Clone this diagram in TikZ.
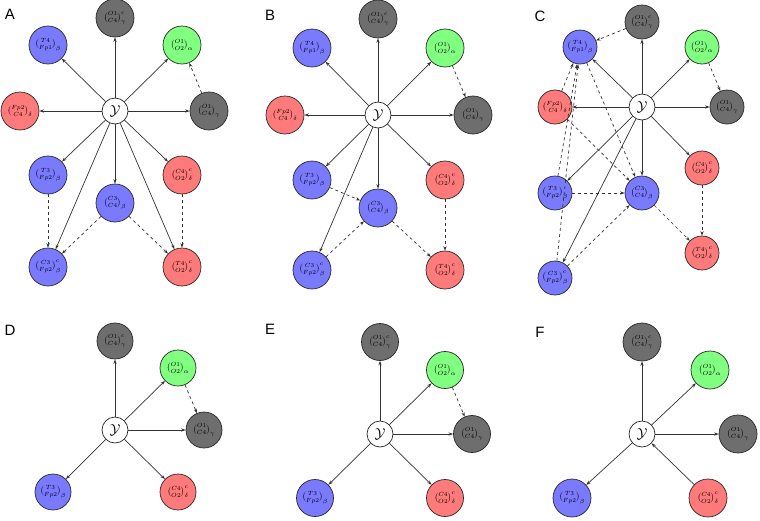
\documentclass[tikz,border=0pt]{standalone}
\usepackage{amsmath}
\usepackage{fontspec}
\newfontfamily\labfont{Liberation Sans}
\usetikzlibrary{arrows.meta}
\definecolor{nblue}{RGB}{122,122,255}
\definecolor{ngreen}{RGB}{128,255,128}
\definecolor{nred}{RGB}{255,122,122}
\definecolor{ngray}{RGB}{110,110,110}
\def\nsize{38pt}
\tikzset{
  cnode/.style={circle, draw=black!85, line width=0.7pt, inner sep=0pt, minimum size=\nsize, font=\footnotesize},
  blu/.style={cnode, fill=nblue},
  grn/.style={cnode, fill=ngreen},
  rd/.style={cnode, fill=nred},
  gry/.style={cnode, fill=ngray},
  ynode/.style={circle, draw=black!85, line width=0.7pt, fill=white, minimum size=26pt, inner sep=0pt, font=\Large},
  sol/.style={-{Stealth[length=4.5pt,width=3.2pt]}, line width=0.7pt, draw=black!80},
  dsh/.style={sol, dashed},
  panlab/.style={font=\labfont\fontsize{15}{15}\selectfont, inner sep=0pt}
}
\newcommand{\lTFa}{$\binom{T4}{Fp1}_\beta$}
\newcommand{\lOCc}{$\binom{O1}{C4}^c_\gamma$}
\newcommand{\lOO}{$\binom{O1}{O2}_\alpha$}
\newcommand{\lFC}{$\binom{Fp2}{C4}_\delta$}
\newcommand{\lOC}{$\binom{O1}{C4}_\gamma$}
\newcommand{\lTFb}{$\binom{T3}{Fp2}_\beta$}
\newcommand{\lCOc}{$\binom{C4}{O2}^c_\delta$}
\newcommand{\lCC}{$\binom{C3}{C4}_\beta$}
\newcommand{\lCFc}{$\binom{C3}{Fp2}^c_\beta$}
\newcommand{\lTOc}{$\binom{T4}{O2}^c_\delta$}
\newcommand{\Ysym}{$\mathcal{Y}$}
\begin{document}
\begin{tikzpicture}[x=1pt,y=-1pt]
\useasboundingbox (0,0) rectangle (760,520);
% ---------------- Panel A ----------------
\node[panlab] (labA) at (10,14) {A};
\node[ynode] (aY) at (115,111) {\Ysym};
\node[gry] (aOCc) at (115,18) {\lOCc};
\node[blu] (aTFa) at (48,45) {\lTFa};
\node[grn] (aOO) at (182,45) {\lOO};
\node[rd] (aFC) at (20,111) {\lFC};
\node[gry] (aOC) at (209,111) {\lOC};
\node[blu] (aTFb) at (48,175) {\lTFb};
\node[rd] (aCOc) at (182,175) {\lCOc};
\node[blu] (aCC) at (115,203) {\lCC};
\node[blu] (aCFc) at (48,267) {\lCFc};
\node[rd] (aTOc) at (182,267) {\lTOc};
\foreach \t in {aOCc,aTFa,aOO,aFC,aOC,aTFb,aCOc,aCC,aCFc,aTOc} \draw[sol] (aY) -- (\t);
\draw[dsh] (aOC) -- (aOO);
\draw[dsh] (aTFb) -- (aCFc);
\draw[dsh] (aCC) -- (aCFc);
\draw[dsh] (aCC) -- (aTOc);
\draw[dsh] (aCOc) -- (aTOc);
% ---------------- Panel B ----------------
\node[panlab] (labB) at (270,15) {B};
\node[ynode] (bY) at (378,115) {\Ysym};
\node[gry] (bOCc) at (378,19) {\lOCc};
\node[blu] (bTFa) at (312,48) {\lTFa};
\node[grn] (bOO) at (445,48) {\lOO};
\node[rd] (bFC) at (285,115) {\lFC};
\node[gry] (bOC) at (473,115) {\lOC};
\node[blu] (bTFb) at (312,180) {\lTFb};
\node[rd] (bCOc) at (445,180) {\lCOc};
\node[blu] (bCC) at (378,208) {\lCC};
\node[blu] (bCFc) at (312,270) {\lCFc};
\node[rd] (bTOc) at (445,270) {\lTOc};
\foreach \t in {bOCc,bTFa,bOO,bFC,bOC,bTFb,bCOc,bCC,bCFc} \draw[sol] (bY) -- (\t);
\draw[dsh] (bOO) -- (bOC);
\draw[dsh] (bTFb) -- (bCC);
\draw[dsh] (bCFc) -- (bCC);
\draw[dsh] (bCC) -- (bTOc);
\draw[dsh] (bCOc) -- (bTOc);
% ---------------- Panel C ----------------
\def\nsize{34pt}
\node[panlab] (labC) at (540,16) {C};
\node[ynode] (cY) at (642,107) {\Ysym};
\node[gry] (cOCc) at (642,22) {\lOCc};
\node[blu] (cTFa) at (580,47) {\lTFa};
\node[grn] (cOO) at (702,47) {\lOO};
\node[rd] (cFC) at (555,107) {\lFC};
\node[gry] (cOC) at (727,107) {\lOC};
\node[rd] (cCOc) at (702,168) {\lCOc};
\node[blu] (cTFb) at (555,193) {\lTFb};
\node[blu] (cCC) at (642,193) {\lCC};
\node[rd] (cTOc) at (702,253) {\lTOc};
\node[blu] (cCFc) at (555,278) {\lCFc};
\foreach \t in {cOCc,cTFa,cOO,cFC,cOC,cTFb,cCOc,cCC,cCFc} \draw[sol] (cY) -- (\t);
\draw[dsh] (cOCc) -- (cTFa);
\draw[dsh] (cOO) -- (cOC);
\draw[dsh] (cCOc) -- (cTOc);
\draw[dsh] (cCC) -- (cTOc);
\draw[dsh] (cTFb) -- (cCC);
\draw[dsh] (cCFc) -- (cCC);
\draw[dsh] (cTFa) -- (cCC);
\draw[dsh] (cFC) -- (cCC);
\draw[dsh] (cFC) -- (cTFa);
\draw[dsh] (cTFb) -- (cTFa);
\draw[dsh] (cCFc) -- (cTFa);
% ---------------- Panel D ----------------
\def\nsize{36pt}
\node[panlab] (labD) at (10,330) {D};
\node[ynode] (dY) at (115,430) {\Ysym};
\node[gry] (dOCc) at (115,341) {\lOCc};
\node[grn] (dOO) at (178,368) {\lOO};
\node[gry] (dOC) at (204,430) {\lOC};
\node[blu] (dTFb) at (53,492) {\lTFb};
\node[rd] (dCOc) at (178,492) {\lCOc};
\foreach \t in {dOCc,dOO,dOC,dTFb,dCOc} \draw[sol] (dY) -- (\t);
\draw[dsh] (dOO) -- (dOC);
% ---------------- Panel E ----------------
\def\nsize{37pt}
\node[panlab] (labE) at (270,329) {E};
\node[ynode] (eY) at (380,434) {\Ysym};
\node[gry] (eOCc) at (380,342) {\lOCc};
\node[grn] (eOO) at (445,370) {\lOO};
\node[gry] (eOC) at (472,434) {\lOC};
\node[blu] (eTFb) at (315,498) {\lTFb};
\node[rd] (eCOc) at (445,498) {\lCOc};
\foreach \t in {eOCc,eOO,eOC,eTFb,eCOc} \draw[sol] (eY) -- (\t);
\draw[dsh] (eOO) -- (eOC);
% ---------------- Panel F ----------------
\def\nsize{38pt}
\node[panlab] (labF) at (540,332) {F};
\node[ynode] (fY) at (642,434) {\Ysym};
\node[gry] (fOCc) at (642,342) {\lOCc};
\node[grn] (fOO) at (710,370) {\lOO};
\node[gry] (fOC) at (738,434) {\lOC};
\node[blu] (fTFb) at (572,498) {\lTFb};
\node[rd] (fCOc) at (708,498) {\lCOc};
\foreach \t in {fOCc,fOO,fOC,fTFb} \draw[sol] (fY) -- (\t);
\draw[sol] (fCOc) -- (fY);
\end{tikzpicture}
\end{document}
